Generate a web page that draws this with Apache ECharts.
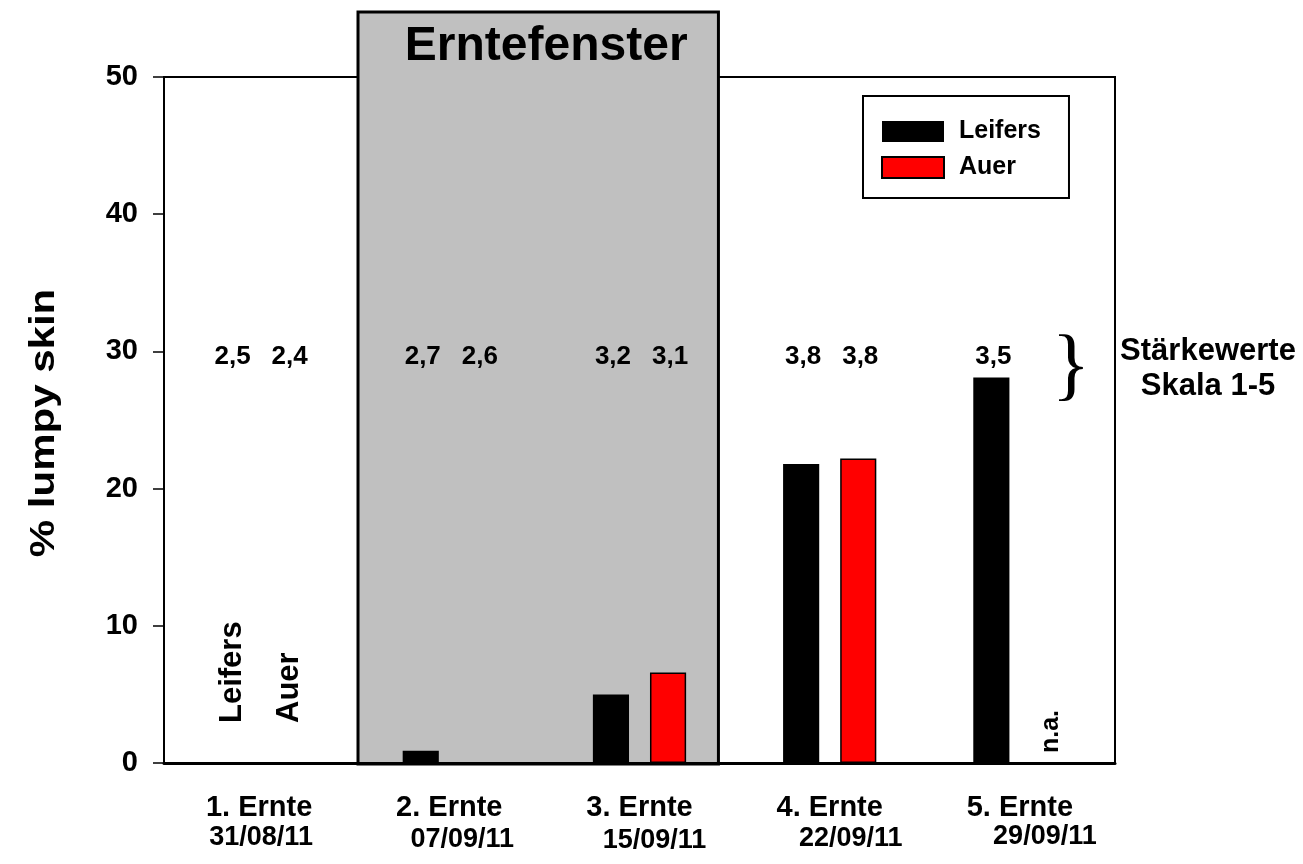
<!DOCTYPE html>
<html>
<head>
<meta charset="utf-8">
<script src="https://cdn.jsdelivr.net/npm/echarts@6/dist/echarts.min.js"></script>
<style>
html,body{margin:0;padding:0;background:#fff;}
#chart{width:1303px;height:864px;}
</style>
</head>
<body>
<div id="chart"></div>
<script>
// ---- data ----
const categories = ['1. Ernte', '2. Ernte', '3. Ernte', '4. Ernte', '5. Ernte'];
const harvestDates = ['31/08/11', '07/09/11', '15/09/11', '22/09/11', '29/09/11'];
const leifersLumpy = [0, 0.9, 5.0, 21.8, 28.1];
const auerLumpy = [0, 0, 6.6, 22.2, null];
const leifersScore = [2.5, 2.7, 3.2, 3.8, 3.5];
const auerScore = [2.4, 2.6, 3.1, 3.8, null];
const leifersNotes = ['Leifers', '', '', '', ''];
const auerNotes = ['Auer', '', '', '', 'n.a.'];
const harvestWindow = [1, 2];          // categories inside "Erntefenster"
const yTickValues = [0, 10, 20, 30, 40, 50];
const scoreLevel = 29.6;               // height at which the Stärkewerte are written

// ---- layout ----
const FONT = '"Liberation Sans", Arial, sans-serif';
const BAR_W = 0.19, BAR_GAP = 0.58;
const dateShift = [[2, 0], [13, 4], [15, 6], [21, 2], [25, -2]];

const chart = echarts.init(document.getElementById('chart'));

function fmt(v) { return String(v.toFixed(1)).replace('.', ','); }

const rich = {
  a: { fontFamily: FONT, fontWeight: 'bold', fontSize: 29, color: '#000', lineHeight: 30 }
};
dateShift.forEach((s, i) => {
  rich['d' + i] = {
    fontFamily: FONT, fontWeight: 'bold', fontSize: 27, color: '#000', lineHeight: 30,
    padding: [s[1] > 0 ? s[1] : 0, s[0] > 0 ? 0 : -2 * s[0], s[1] < 0 ? -s[1] : 0, s[0] > 0 ? 2 * s[0] : 0]
  };
});

const option = {
  animation: false,
  backgroundColor: '#fff',
  grid: { left: 164, right: 188, top: 77, bottom: 101, show: true, borderColor: '#000', borderWidth: 2, backgroundColor: 'transparent' },
  legend: {
    data: ['Leifers', 'Auer'],
    left: 863, top: 96,
    orient: 'vertical',
    itemWidth: 62, itemHeight: 21, itemGap: 11,
    padding: [23, 28, 18, 18],
    backgroundColor: '#fff', borderColor: '#000', borderWidth: 2,
    icon: 'rect',
    textStyle: { fontFamily: FONT, fontWeight: 'bold', fontSize: 25, color: '#000', padding: [0, 0, 0, 10], lineHeight: 21 },
    z: 10
  },
  xAxis: {
    type: 'category',
    data: categories,
    z: 5,
    axisLine: { lineStyle: { color: '#000', width: 3 } },
    axisTick: { alignWithLabel: true, length: 9, lineStyle: { color: '#000', width: 1.5 } },
    axisLabel: {
      margin: 30,
      formatter: (v, i) => '{a|' + v + '}\n{d' + i + '|' + harvestDates[i] + '}',
      rich: rich
    },
    splitLine: { show: false }
  },
  yAxis: {
    type: 'value', min: yTickValues[0], max: yTickValues[yTickValues.length - 1], interval: 10,
    axisLine: { show: true, lineStyle: { color: '#000', width: 2 } },
    axisTick: { show: true, length: 11, lineStyle: { color: '#000', width: 1.5 } },
    axisLabel: { margin: 26, fontFamily: FONT, fontWeight: 'bold', fontSize: 29, color: '#000' },
    splitLine: { show: false }
  },
  graphic: [
    {
      type: 'text', x: 44, y: 423, rotation: Math.PI / 2, scaleX: 1.2,
      style: { text: '% lumpy skin', font: 'bold 35px ' + FONT, fill: '#000', align: 'center', verticalAlign: 'middle' }
    },
    {
      type: 'text', x: 1071, y: 369,
      style: { text: '}', font: '80px "Liberation Serif", "Times New Roman", serif', fill: '#000', align: 'center', verticalAlign: 'middle' }
    },
    {
      type: 'text', x: 1208, y: 369,
      style: { text: 'Stärkewerte\nSkala 1-5', font: 'bold 31px ' + FONT, lineHeight: 35, fill: '#000', align: 'center', verticalAlign: 'middle' }
    }
  ],
  series: [
    {
      name: 'window', type: 'custom', z: 1, silent: true,
      data: [[harvestWindow[0], harvestWindow[1], 0]],
      encode: { x: 0, y: 2 },
      renderItem: function (params, api) {
        const c1 = api.coord([api.value(0), 0]);
        const c2 = api.coord([api.value(1), 50]);
        const band = api.size([1, 0])[0];
        const left = c1[0] - 0.48 * band;
        const right = c2[0] + 0.415 * band;
        const top = c2[1] - 65;
        const bottom = c1[1] + 1;
        return {
          type: 'group',
          children: [
            { type: 'rect', shape: { x: left, y: top, width: right - left, height: bottom - top },
              style: { fill: '#c0c0c0', stroke: '#000', lineWidth: 3 } },
            { type: 'text', x: (left + right) / 2 + 8, y: top + 35,
              style: { text: 'Erntefenster', font: 'bold 48px ' + FONT, fill: '#000', align: 'center', verticalAlign: 'middle' } }
          ]
        };
      }
    },
    {
      name: 'Leifers', type: 'bar', z: 2,
      data: leifersLumpy,
      barWidth: (BAR_W * 100) + '%', barGap: (BAR_GAP * 100) + '%',
      itemStyle: { color: '#000', borderColor: '#000', borderWidth: 0 }
    },
    {
      name: 'Auer', type: 'bar', z: 2,
      data: auerLumpy,
      barWidth: (BAR_W * 100) + '%', barGap: (BAR_GAP * 100) + '%',
      itemStyle: { color: '#ff0000', borderColor: '#000', borderWidth: 1.5 }
    },
    {
      name: 'annotations', type: 'custom', z: 3, silent: true,
      data: categories.map((c, i) => [i, scoreLevel]),
      encode: { x: 0, y: 1 },
      renderItem: function (params, api) {
        const i = api.value(0);
        const band = api.size([1, 0])[0];
        const off = band * BAR_W * (1 + BAR_GAP) / 2;
        const sp = api.coord([i, api.value(1)]);
        const base = api.coord([i, 0]);
        const children = [];
        const scores = [leifersScore[i], auerScore[i]];
        const notes = [leifersNotes[i], auerNotes[i]];
        [-1, 1].forEach((side, k) => {
          const x = sp[0] + side * off;
          if (scores[k] != null) {
            children.push({ type: 'text', x: x + 2, y: sp[1],
              style: { text: fmt(scores[k]), font: 'bold 26px ' + FONT, fill: '#000', align: 'center', verticalAlign: 'middle' } });
          }
          if (notes[k]) {
            const small = notes[k] === 'n.a.';
            children.push({ type: 'text', x: x + (small ? 3 : 2), y: base[1] - (small ? 10 : 40), rotation: Math.PI / 2,
              style: { text: notes[k], font: 'bold ' + (small ? 25 : 31) + 'px ' + FONT, fill: '#000', align: 'left', verticalAlign: 'middle' } });
          }
        });
        return { type: 'group', children: children };
      }
    }
  ]
};

chart.setOption(option);
</script>
</body>
</html>
